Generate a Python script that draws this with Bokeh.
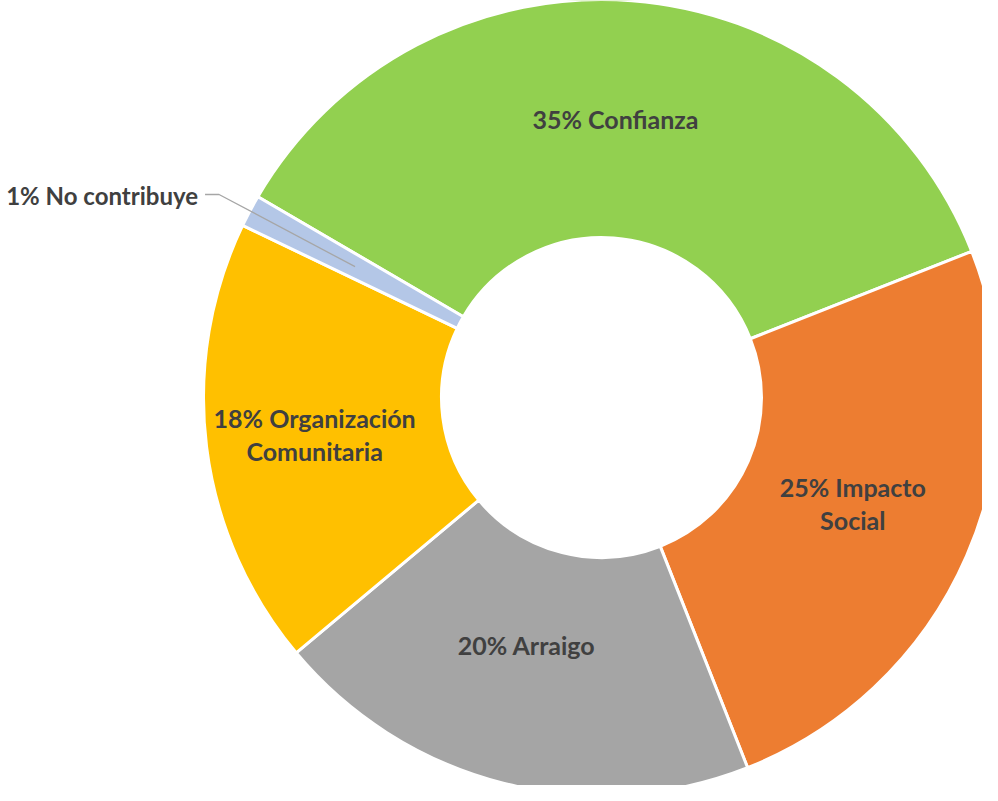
import numpy as np
from bokeh.plotting import figure
from bokeh.models import Range1d, ColumnDataSource
from bokeh.embed import file_html
from bokeh.resources import INLINE
from bokeh.core.properties import value

# ---- data ----
categories = ["Confianza", "Impacto Social", "Arraigo", "Organización Comunitaria", "No contribuye"]
shares = [35.6, 25.0, 19.9, 18.2, 1.3]
labels = ["35% Confianza", "25% Impacto\nSocial", "20% Arraigo",
          "18% Organización\nComunitaria", "1% No contribuye"]
colors = ["#92D050", "#ED7D31", "#A5A5A5", "#FFC000", "#B4C7E7"]

# ---- layout (data units = pixels) ----
W, H = 982, 785
cx, cy = 601, 388          # centre of donut
r_in, r_out = 160, 398
first_angle_deg = 300.3     # clockwise from 12 o'clock
r_lab = 275
label_dx = [-7, -1, -7, -14]   # small placement nudges (best-fit style)
label_dy = [4, 3, 19, -3]

vals = np.array(shares, dtype=float)
frac = vals / vals.sum()
cum = np.concatenate([[0], np.cumsum(frac)])
a0 = np.deg2rad(90 - first_angle_deg)
starts = a0 - cum[:-1] * 2 * np.pi
ends = a0 - cum[1:] * 2 * np.pi
mids = (starts + ends) / 2

src = ColumnDataSource(dict(start=starts, end=ends, color=colors, cat=categories))

p = figure(width=W, height=H, output_backend="svg", toolbar_location=None,
           x_range=Range1d(0, W), y_range=Range1d(0, H), min_border=0,
           background_fill_color="white", border_fill_color="white")
p.axis.visible = False
p.grid.visible = False
p.outline_line_color = None

p.annular_wedge(x=cx, y=cy, inner_radius=r_in, outer_radius=r_out,
                start_angle="start", end_angle="end", direction="clock",
                fill_color="color", line_color="white", line_width=3, source=src)

# inside labels
lx = [cx + r_lab * np.cos(m) + d for m, d in zip(mids[:4], label_dx)]
ly = [cy + r_lab * np.sin(m) + d for m, d in zip(mids[:4], label_dy)]
p.text(x=lx, y=ly, text=labels[:4], text_align="center", text_baseline="middle",
       text_font=value("Lato"), text_font_style="bold", text_font_size="25px",
       text_color="#404040", text_line_height=1.1)

# outside label with leader line for the smallest slice
m = mids[4]
x1, y1 = cx + 279 * np.cos(m), cy + 279 * np.sin(m)
x2, y2 = cx + 433 * np.cos(m), cy + 433 * np.sin(m)
x3 = x2 - 14
p.line(x=[x1, x2, x3], y=[y1, y2, y2], line_color="#A6A6A6", line_width=1.3)
p.text(x=[x3 - 7], y=[y2 - 1], text=[labels[4]], text_align="right", text_baseline="middle",
       text_font=value("Lato"), text_font_style="bold", text_font_size="24px",
       text_color="#404040")

open("out.html", "w").write(file_html(p, INLINE))
